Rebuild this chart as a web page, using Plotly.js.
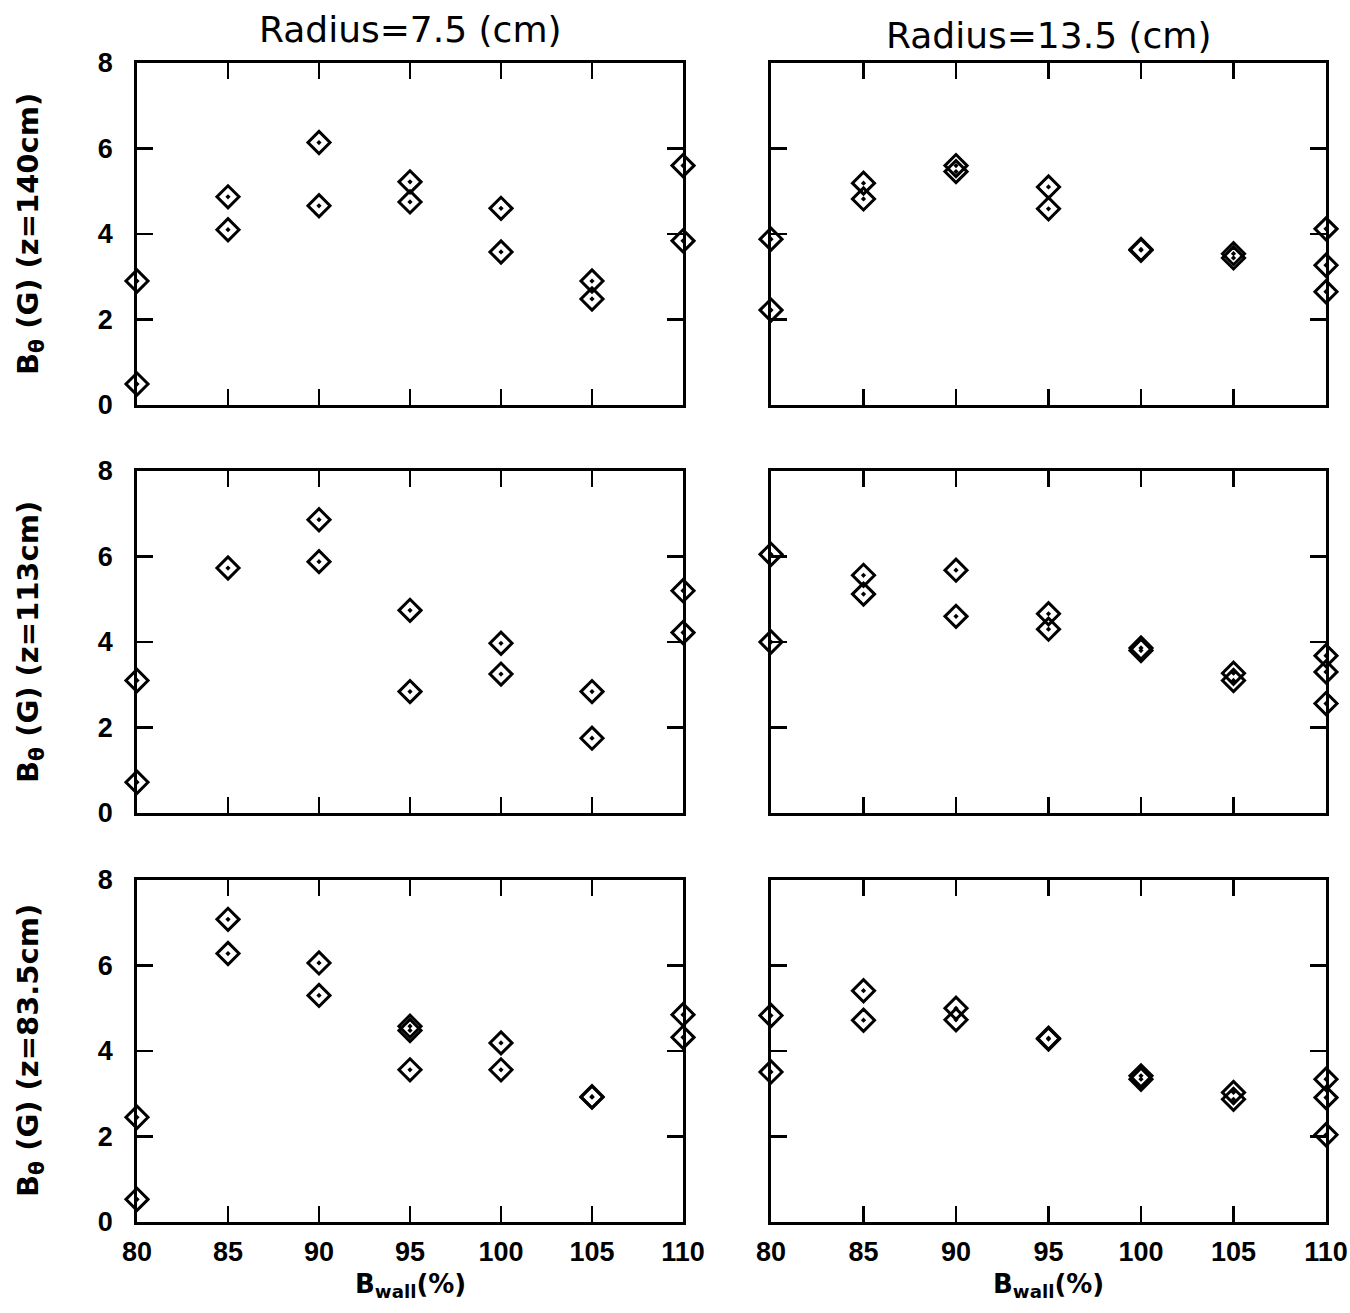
<!DOCTYPE html>
<html>
<head>
<meta charset="utf-8">
<script src="https://cdn.plot.ly/plotly-3.0.1.min.js"></script>
<style>html,body{margin:0;padding:0;background:#fff;}#chart{width:1350px;height:1313px;}</style>
</head>
<body>
<div id="chart"></div>
<script>
// B_wall (%) positions for each panel
const x_r75_z140  = [80, 80, 85, 85, 90, 90, 95, 95, 100, 100, 105, 105, 110, 110];
const y_r75_z140  = [2.9, 0.49, 4.87, 4.1, 6.14, 4.66, 5.22, 4.75, 4.6, 3.58, 2.9, 2.48, 5.6, 3.84];

const x_r135_z140 = [80, 80, 85, 85, 90, 90, 95, 95, 100, 100, 105, 105, 110, 110, 110];
const y_r135_z140 = [3.88, 2.22, 5.19, 4.82, 5.6, 5.46, 5.1, 4.59, 3.64, 3.62, 3.54, 3.44, 4.12, 3.27, 2.65];

const x_r75_z113  = [80, 80, 85, 90, 90, 95, 95, 100, 100, 105, 105, 110, 110];
const y_r75_z113  = [3.1, 0.72, 5.73, 6.86, 5.88, 4.74, 2.84, 3.97, 3.25, 2.84, 1.75, 5.2, 4.22];

const x_r135_z113 = [80, 80, 85, 85, 90, 90, 95, 95, 100, 100, 105, 105, 110, 110, 110];
const y_r135_z113 = [6.05, 4.0, 5.56, 5.12, 5.68, 4.6, 4.66, 4.3, 3.86, 3.8, 3.27, 3.1, 3.68, 3.3, 2.56];

const x_r75_z835  = [80, 80, 85, 85, 90, 90, 95, 95, 95, 100, 100, 105, 105, 110, 110];
const y_r75_z835  = [2.45, 0.53, 7.08, 6.28, 6.06, 5.3, 4.58, 4.48, 3.56, 4.19, 3.56, 2.93, 2.92, 4.85, 4.32];

const x_r135_z835 = [80, 80, 85, 85, 90, 90, 95, 95, 100, 100, 105, 105, 110, 110, 110];
const y_r135_z835 = [4.83, 3.51, 5.41, 4.72, 5.0, 4.73, 4.3, 4.28, 3.42, 3.34, 3.03, 2.87, 3.34, 2.91, 2.04];

const xTicks = [80, 85, 90, 95, 100, 105, 110];
const yTicks = [0, 2, 4, 6, 8];
const colTitles = ["Radius=7.5 (cm)", "Radius=13.5 (cm)"];
const rowTitles = ["B<sub>θ</sub> (G) (z=140cm)", "B<sub>θ</sub> (G) (z=113cm)", "B<sub>θ</sub> (G) (z=83.5cm)"];
const xTitle = "B<sub>wall</sub>(%)";

const W = 1350, H = 1313;
const colPx = [[137, 683], [771, 1326]];
const rowPx = [[63, 405], [471, 813], [880, 1222]];

const panels = [
  [x_r75_z140, y_r75_z140, 0, 0],
  [x_r135_z140, y_r135_z140, 0, 1],
  [x_r75_z113, y_r75_z113, 1, 0],
  [x_r135_z113, y_r135_z113, 1, 1],
  [x_r75_z835, y_r75_z835, 2, 0],
  [x_r135_z835, y_r135_z835, 2, 1]
];

const FONT = "DejaVu Sans, Liberation Sans, sans-serif";
const TICKFONT = "Liberation Sans, Arial, sans-serif";
const traces = [];
const layout = {
  width: W, height: H,
  margin: {l: 0, r: 0, t: 0, b: 0},
  paper_bgcolor: "#fff", plot_bgcolor: "#fff",
  showlegend: false,
  font: {family: FONT, color: "#000"},
  annotations: []
};

panels.forEach((p, i) => {
  const n = i + 1;
  const xa = n === 1 ? "x" : "x" + n;
  const ya = n === 1 ? "y" : "y" + n;
  const row = p[2], col = p[3];
  traces.push({
    type: "scatter", mode: "markers",
    x: p[0], y: p[1], xaxis: xa, yaxis: ya,
    cliponaxis: false,
    marker: {symbol: "diamond-open-dot", size: 17, color: "#000", line: {width: 3, color: "#000"}},
    hoverinfo: "x+y"
  });
  const xd = [colPx[col][0] / W, colPx[col][1] / W];
  const yd = [1 - rowPx[row][1] / H, 1 - rowPx[row][0] / H];
  layout["xaxis" + (n === 1 ? "" : n)] = {
    domain: xd, anchor: ya, range: [80, 110],
    tickvals: xTicks, ticktext: xTicks.map(String),
    showticklabels: row === 2,
    ticks: "inside", ticklen: 16, tickwidth: 2.6, tickcolor: "#000",
    mirror: "allticks", showline: true, linewidth: 2.8, linecolor: "#000",
    showgrid: false, zeroline: false,
    tickfont: {family: TICKFONT, size: 27, color: "#000", weight: "bold"},
    ticklabelstandoff: 4, ticklabeloverflow: "allow"
  };
  layout["yaxis" + (n === 1 ? "" : n)] = {
    domain: yd, anchor: xa, range: [0, 8],
    tickvals: yTicks, ticktext: yTicks.map(String),
    showticklabels: col === 0,
    ticks: "inside", ticklen: 16, tickwidth: 2.6, tickcolor: "#000",
    mirror: "allticks", showline: true, linewidth: 2.8, linecolor: "#000",
    showgrid: false, zeroline: false,
    tickfont: {family: TICKFONT, size: 27, color: "#000", weight: "bold"},
    ticklabelstandoff: 16, ticklabeloverflow: "allow"
  };
});

// column titles
colTitles.forEach((t, c) => {
  layout.annotations.push({
    text: t, xref: "paper", yref: "paper",
    x: (colPx[c][0] + colPx[c][1]) / 2 / W, y: 1 - (c === 0 ? 30 : 35) / H,
    xanchor: "center", yanchor: "middle", showarrow: false,
    font: {family: FONT, size: 36, color: "#000"}
  });
});
// row titles
rowTitles.forEach((t, r) => {
  layout.annotations.push({
    text: t, xref: "paper", yref: "paper",
    x: 30 / W, y: 1 - (rowPx[r][0] + rowPx[r][1]) / 2 / H,
    xanchor: "center", yanchor: "middle", textangle: -90, showarrow: false,
    font: {family: FONT, size: 29, color: "#000", weight: "bold"}
  });
});
// x titles
[0, 1].forEach(c => {
  layout.annotations.push({
    text: xTitle, xref: "paper", yref: "paper",
    x: (colPx[c][0] + colPx[c][1]) / 2 / W, y: 1 - 1285 / H,
    xanchor: "center", yanchor: "middle", showarrow: false,
    font: {family: FONT, size: 26, color: "#000", weight: "bold"}
  });
});

Plotly.newPlot("chart", traces, layout, {displayModeBar: false, staticPlot: true});
</script>
</body>
</html>
